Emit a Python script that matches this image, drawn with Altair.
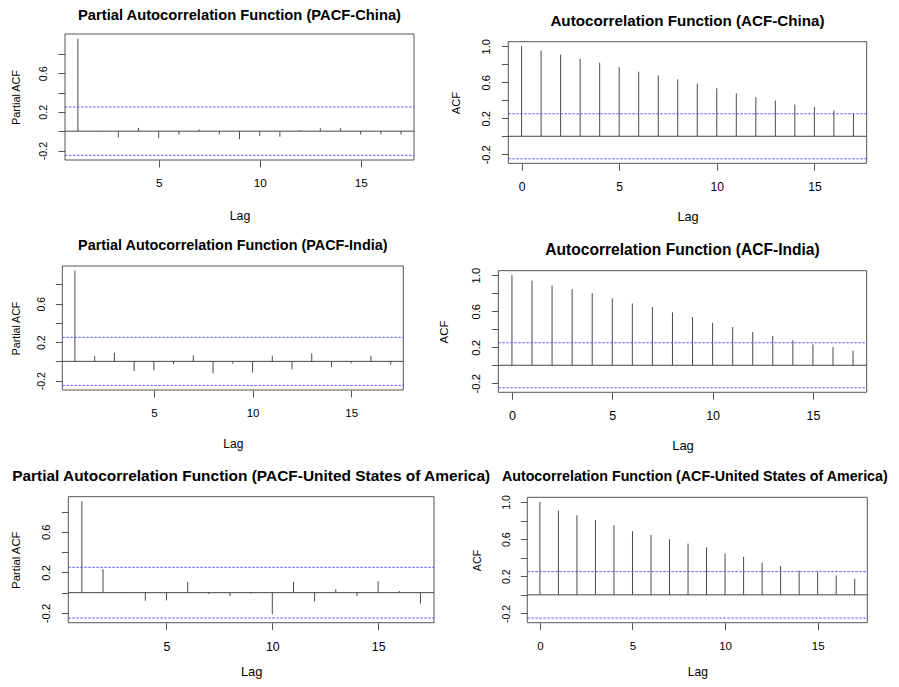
import altair as alt
import pandas as pd

FONT = "Liberation Sans"
CLIM = 0.25

lags_pacf = list(range(1, 18))
lags_acf = list(range(0, 18))

pacf_china = [0.957, -0.008, -0.065, 0.035, -0.072, -0.035, 0.017, -0.030, -0.083,
              -0.048, -0.058, 0.010, 0.030, 0.030, -0.035, -0.030, -0.035]
pacf_india = [0.944, 0.055, 0.090, -0.100, -0.093, -0.028, 0.062, -0.124, -0.024,
              -0.117, 0.059, -0.083, 0.083, -0.059, -0.020, 0.059, -0.034]
pacf_usa = [0.900, 0.232, 0.004, -0.080, -0.076, 0.106, -0.013, -0.033, -0.010,
            -0.212, 0.106, -0.086, 0.033, -0.033, 0.113, 0.017, -0.109]

acf_china = [1.0, 0.952, 0.908, 0.860, 0.816, 0.768, 0.717, 0.676, 0.632, 0.585,
             0.533, 0.478, 0.434, 0.397, 0.353, 0.324, 0.287, 0.250]
acf_india = [1.0, 0.941, 0.886, 0.845, 0.801, 0.742, 0.686, 0.646, 0.587, 0.535,
             0.472, 0.424, 0.369, 0.325, 0.277, 0.232, 0.203, 0.162]
acf_usa = [1.0, 0.907, 0.857, 0.806, 0.749, 0.685, 0.645, 0.599, 0.552, 0.513,
           0.444, 0.409, 0.348, 0.308, 0.262, 0.244, 0.208, 0.172]

titles = {
    "pc": "Partial Autocorrelation Function (PACF-China)",
    "ac": "Autocorrelation Function (ACF-China)",
    "pi": "Partial Autocorrelation Function (PACF-India)",
    "ai": "Autocorrelation Function (ACF-India)",
    "pu": "Partial Autocorrelation Function (PACF-United States of America)",
    "au": "Autocorrelation Function (ACF-United States of America)",
}

W, H = 883, 671   # drawing area (page minus 8px margin)

YLABEL_EXPR = ("datum.value < -0.1 ? '-0.2' : (abs(datum.value - 0.2) < 0.01 ? '0.2' : "
               "(abs(datum.value - 0.6) < 0.01 ? '0.6' : (datum.value > 0.9 ? '1.0' : '')))")


def panel(lags, vals, kind, title, box, s, lag_gap, ytitle_gap, title_gap=21,
          title_size=None, title_dx=0):
    # box: plot-area edges in page pixels (left, right, top, bottom); s: text scale
    left, right, top, bottom = [v - 8 for v in box]
    f_title = title_size if title_size else 14.4 * s
    f_xlab = 11.5 * s
    f_ylab = 10.5 * s
    f_xtitle = 12 * s
    f_ytitle = 10.6 * s
    df = pd.DataFrame({"lag": lags, "v": vals})
    lo, hi = min(-CLIM, min(vals)), max(CLIM, max(vals))
    if kind == "acf":
        xdom = [-0.68, 17.68]
        xvals = [0, 5, 10, 15]
        yvals = [-0.2, 0, 0.2, 0.4, 0.6, 0.8, 1.0]
        ylab = "ACF"
    else:
        xdom = [0.36, 17.64]
        xvals = [5, 10, 15]
        yvals = [-0.2, 0, 0.2, 0.4, 0.6, 0.8]
        ylab = "Partial ACF"
    ext = 0.04 * (hi - lo)
    ydom = [lo - ext, hi + ext]

    xscale = alt.Scale(domain=xdom, range=[left, right], nice=False, zero=False)
    yscale = alt.Scale(domain=ydom, range=[bottom, top], nice=False, zero=False)

    x = alt.X("lag:Q", scale=xscale,
              axis=alt.Axis(orient="bottom", offset=bottom - H, position=0,
                            values=xvals, format="d", title="Lag", domain=False, grid=False,
                            tickSize=7, tickColor="#555555", labelFont=FONT,
                            labelFontSize=f_xlab, labelColor="black",
                            labelPadding=22.7 - 0.432 * f_xlab - 7, labelFlush=False,
                            labelOverlap=False, titleFont=FONT, titleFontSize=f_xtitle,
                            titleFontWeight="normal", titleColor="black",
                            titleY=lag_gap + 0.358 * f_xtitle,
                            titleBaseline="alphabetic"))
    y = alt.Y("v:Q", scale=yscale,
              axis=alt.Axis(orient="left", offset=-left, position=0,
                            values=yvals, labelExpr=YLABEL_EXPR, title=ylab, domain=False,
                            grid=False, tickSize=7, tickColor="#555555", labelFont=FONT,
                            labelFontSize=f_ylab, labelColor="black",
                            labelPadding=21.5 * s - 0.358 * f_ylab - 7,
                            labelAngle=-90, labelAlign="center", labelBaseline="alphabetic",
                            labelFlush=False, labelOverlap=False, titleFont=FONT,
                            titleFontSize=f_ytitle, titleFontWeight="normal", titleColor="black",
                            titleX=-(ytitle_gap - 0.358 * f_ytitle), titleBaseline="alphabetic",
                            titleAngle=-90, titleAlign="center"))
    sticks = alt.Chart(df).mark_rule(color="#4a4a4a", strokeWidth=1).encode(
        x=x, y=y, y2=alt.datum(0))
    one = pd.DataFrame({"a": [0]})
    zero = alt.Chart(one).mark_rule(color="#444444", strokeWidth=1).encode(
        x=alt.datum(xdom[0]), x2=alt.datum(xdom[1]), y=alt.datum(0))
    up = alt.Chart(one).mark_rule(color="#5858ff", strokeWidth=1, strokeDash=[2.5, 1.5]).encode(
        x=alt.datum(xdom[0]), x2=alt.datum(xdom[1]), y=alt.datum(CLIM))
    dn = alt.Chart(one).mark_rule(color="#5858ff", strokeWidth=1, strokeDash=[2.5, 1.5]).encode(
        x=alt.datum(xdom[0]), x2=alt.datum(xdom[1]), y=alt.datum(-CLIM))
    frame = alt.Chart(one).mark_rect(fill="transparent", stroke="#555555", strokeWidth=1).encode(
        x=alt.datum(xdom[0]), x2=alt.datum(xdom[1]), y=alt.datum(ydom[0]), y2=alt.datum(ydom[1]))
    ttl = alt.Chart(one).mark_text(font=FONT, fontSize=f_title, fontWeight="bold", color="black",
                                   align="center", baseline="alphabetic", dx=title_dx,
                                   dy=-(title_gap - 0.358 * f_title)).encode(
        x=alt.datum((xdom[0] + xdom[1]) / 2), y=alt.datum(ydom[1]), text=alt.value(title))
    return alt.layer(sticks, zero, up, dn, frame, ttl)


panels = [
    panel(lags_pacf, pacf_china, "pacf", titles["pc"], (65, 414, 34, 160), 1.023,
          55, 49.7, title_gap=19.5),
    panel(lags_acf, acf_china, "acf", titles["ac"], (508.3, 866.7, 41.7, 163.3), 1.056,
          53, 53),
    panel(lags_pacf, pacf_india, "pacf", titles["pi"], (62.3, 403.3, 266, 390), 1.0,
          53.3, 46.5),
    panel(lags_acf, acf_india, "acf", titles["ai"], (498.3, 866.7, 270.7, 392.3), 1.083,
          52.7, 55),
    panel(lags_pacf, pacf_usa, "pacf", titles["pu"], (68.3, 434, 496.7, 622.7), 1.073,
          48.5, 53),
    panel(lags_acf, acf_usa, "acf", titles["au"], (527.3, 867.3, 497.3, 622.7), 1.003,
          48.5, 50.6, title_size=14.25, title_dx=-2.5),
]

chart = alt.layer(*panels).resolve_scale(
    x="independent", y="independent"
).resolve_axis(
    x="independent", y="independent"
).properties(
    width=W, height=H, padding=0, background="white",
    autosize=alt.AutoSizeParams(type="none"),
).configure_view(stroke="transparent")

chart.save("out.html", embed_options={"renderer": "svg", "actions": False})
